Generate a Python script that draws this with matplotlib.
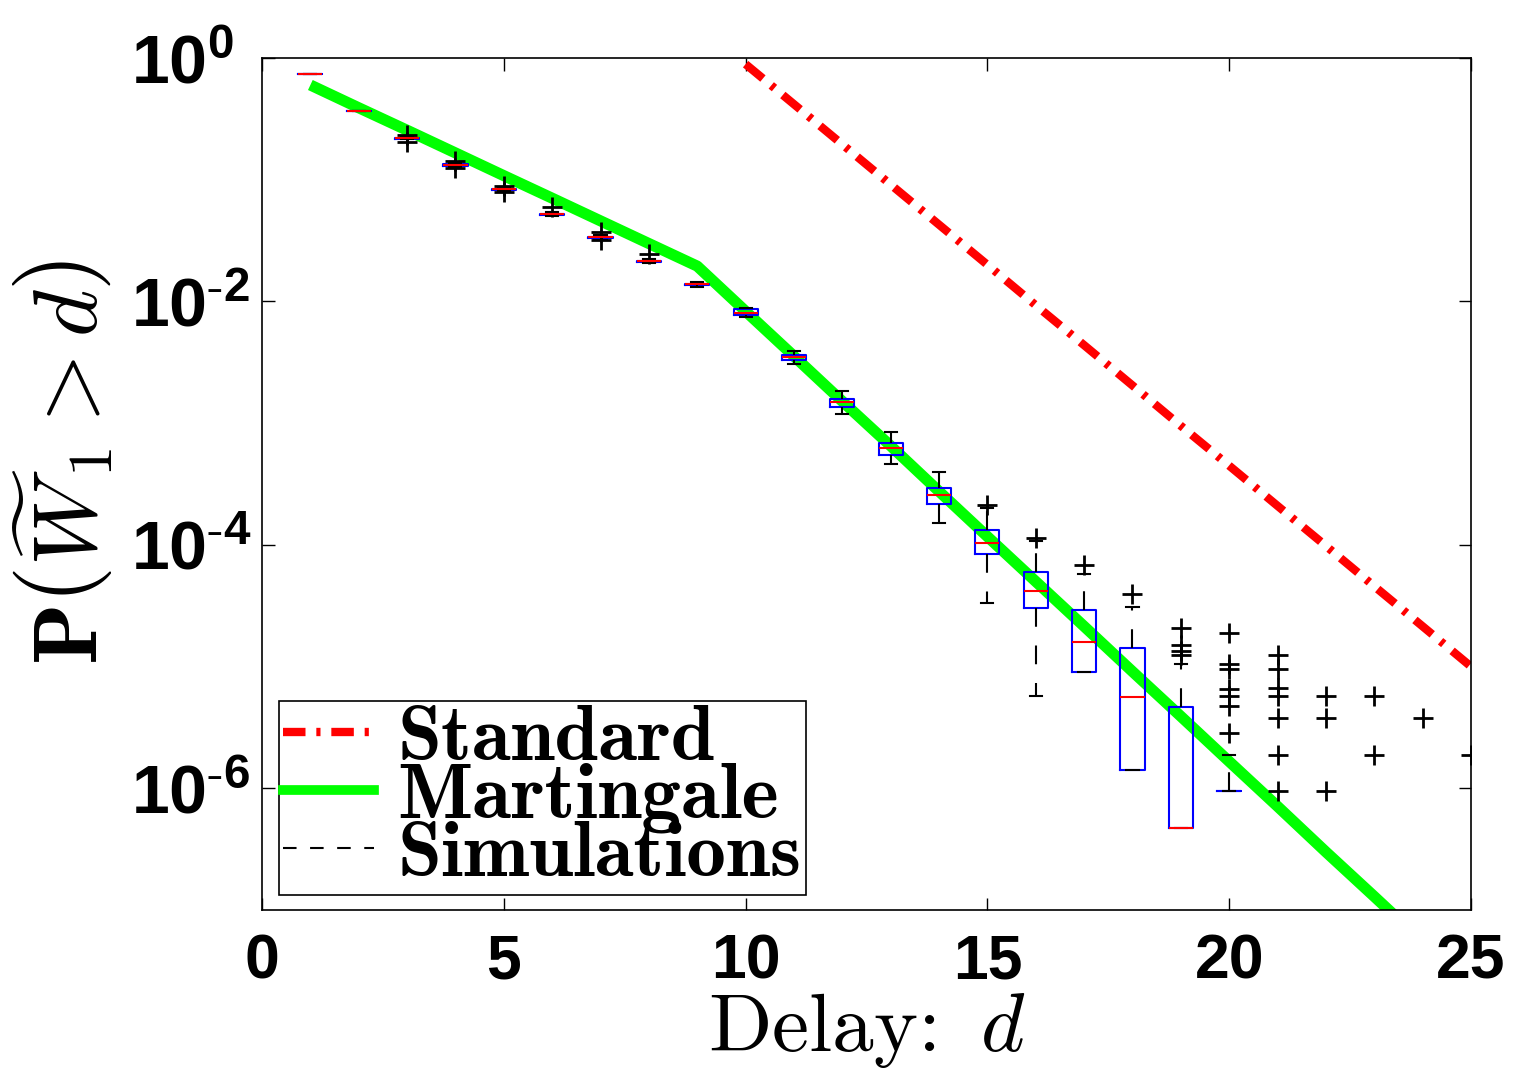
import numpy as np
import matplotlib.pyplot as plt
from matplotlib.lines import Line2D

plt.rcParams['mathtext.fontset'] = 'cm'

nan = np.nan
delays = list(range(1, 26))

# boxplot summaries of the simulations, one per delay d
med = [0.74, 0.37, 0.22, 0.132, 0.0835, 0.052, 0.0336, 0.0213, 0.0138,
       8.1e-3, 3.52e-3, 1.50e-3, 6.29e-4, 2.58e-4, 1.04e-4, 4.18e-5, 1.59e-5,
       5.61e-6, 4.69e-7, nan, nan, nan, nan, nan, nan]
q1 = [0.74, 0.37, 0.218, 0.130, 0.0825, 0.0513, 0.0332, 0.0210, 0.0136,
      7.67e-3, 3.33e-3, 1.37e-3, 5.5e-4, 2.17e-4, 8.43e-5, 3.03e-5, 9.0e-6,
      1.41e-6, 4.69e-7, 9.5e-7, nan, nan, nan, nan, nan]
q3 = [0.74, 0.37, 0.222, 0.134, 0.0845, 0.0527, 0.034, 0.0216, 0.014,
      8.6e-3, 3.66e-3, 1.59e-3, 6.91e-4, 2.95e-4, 1.33e-4, 6.0e-5, 2.92e-5,
      1.42e-5, 4.64e-6, 9.5e-7, nan, nan, nan, nan, nan]
whislo = [0.74, 0.37, 0.216, 0.128, 0.081, 0.050, 0.032, 0.0205, 0.0132,
          7.4e-3, 3.09e-3, 1.20e-3, 4.64e-4, 1.52e-4, 3.33e-5, 5.71e-6, 9.0e-6,
          1.41e-6, 4.69e-7, 9.5e-7, nan, nan, nan, nan, nan]
whishi = [0.74, 0.37, 0.224, 0.136, 0.086, 0.054, 0.035, 0.0225, 0.0145,
          8.75e-3, 3.95e-3, 1.82e-3, 8.51e-4, 3.99e-4, 2.02e-4, 1.08e-4, 5.77e-5,
          3.09e-5, 1.05e-5, 1.87e-6, nan, nan, nan, nan, nan]
fliers = [[], [], [0.235, 0.206], [0.142, 0.124], [0.089, 0.079], [0.060],
          [0.0375, 0.0318], [0.0245], [], [], [], [], [], [],
          [2.13e-4], [1.14e-4], [6.84e-5], [3.95e-5],
          [2.07e-5, 1.50e-5, 1.34e-5, 1.24e-5],
          [2.84e-6, 4.73e-6, 5.71e-6, 6.53e-6, 9.55e-6, 1.05e-5, 1.89e-5],
          [1.24e-5, 9.55e-6, 6.65e-6, 5.71e-6, 3.77e-6, 1.87e-6, 9.45e-7],
          [5.71e-6, 3.77e-6, 9.45e-7], [5.71e-6, 1.87e-6], [3.77e-6], [1.87e-6]]

# Martingale bound
mart_d = list(range(1, 25))
mart_p = [0.60, 0.39, 0.255, 0.166, 0.108, 0.0705, 0.0459, 0.0299, 0.0195,
          8.3e-3, 3.55e-3, 1.51e-3, 6.5e-4, 2.75e-4, 1.17e-4, 5.0e-5, 2.14e-5,
          9.1e-6, 3.9e-6, 1.66e-6, 7.1e-7, 3.0e-7, 1.29e-7, 5.5e-8]

# Standard bound
std_d = list(range(10, 26))
std_p = [0.89, 0.417, 0.195, 0.0912, 0.0427, 0.02, 9.3e-3, 4.37e-3, 2.04e-3,
         9.5e-4, 4.47e-4, 2.09e-4, 9.8e-5, 4.57e-5, 2.14e-5, 1.0e-5]

fig = plt.figure(figsize=(15.17, 10.70), dpi=100)
ax = fig.add_axes([262 / 1517, 1 - 910 / 1070, 1209 / 1517, 852 / 1070])

dashdot = (0, (2.7, 1.3, 0.5, 1.3))
ax.plot(std_d, std_p, color='red', lw=6, linestyle=dashdot, dash_capstyle='butt')
ax.plot(mart_d, mart_p, color=(0, 1, 0), lw=8, solid_capstyle='butt')

stats = []
for i in range(len(delays)):
    stats.append(dict(med=med[i], q1=q1[i], q3=q3[i], whislo=whislo[i],
                      whishi=whishi[i], fliers=fliers[i]))
ax.bxp(stats, positions=delays, widths=0.5, manage_ticks=False,
       boxprops=dict(color='blue', lw=1.5),
       medianprops=dict(color='red', lw=1.5),
       whiskerprops=dict(color='k', lw=1.5, linestyle=(0, (9, 9))),
       capprops=dict(color='k', lw=1.5),
       flierprops=dict(marker='+', markeredgecolor='k', markersize=14,
                       markeredgewidth=2, linestyle='none'))

ax.set_yscale('log')
ax.set_xlim(0, 25)
ax.set_ylim(1e-7, 1)
ax.set_xticks([0, 5, 10, 15, 20, 25])
ax.set_xticklabels(['0', '5', '10', '15', '20', '25'],
                   fontfamily='Liberation Sans', fontweight='bold', fontsize=45)
ax.set_yticks([1e-6, 1e-4, 1e-2, 1])
ax.set_yticklabels([r'$\mathregular{10^{\text{-}6}}$', r'$\mathregular{10^{\text{-}4}}$',
                    r'$\mathregular{10^{\text{-}2}}$', r'$\mathregular{10^{0}}$'],
                   fontfamily='Liberation Sans', fontweight='bold', fontsize=49)
for lbl in ax.get_yticklabels():
    lbl.set_horizontalalignment('left')
ax.minorticks_off()
ax.tick_params(direction='in', length=9, width=1, top=True, right=True)
ax.tick_params(axis='x', pad=16)
ax.tick_params(axis='y', pad=94)
for s in ax.spines.values():
    s.set_linewidth(1.2)

ax.set_xlabel(r'Delay: $\,d$', fontfamily='cmr10', fontsize=60, labelpad=0)
ax.set_ylabel(r'$\mathbf{P}\left(\widetilde{W}_1 > d\right)$', fontsize=65)
ax.yaxis.set_label_coords(-0.12, 0.525)

handles = [Line2D([], [], color='red', lw=6, linestyle=dashdot),
           Line2D([], [], color=(0, 1, 0), lw=7),
           Line2D([], [], color='k', lw=1.5, linestyle=(0, (6.5, 6.5)))]
leg = ax.legend(handles, ['Standard', 'Martingale', 'Simulations'],
                loc='lower left', bbox_to_anchor=(0.014, 0.0176), borderaxespad=0,
                prop=dict(family='cmb10', size=57), fancybox=False,
                edgecolor='k', framealpha=1, handlelength=1.15,
                handletextpad=0.3, borderpad=0.05, labelspacing=-0.16)
leg.get_frame().set_linewidth(1.2)

fig.savefig('out.png', dpi=100)
